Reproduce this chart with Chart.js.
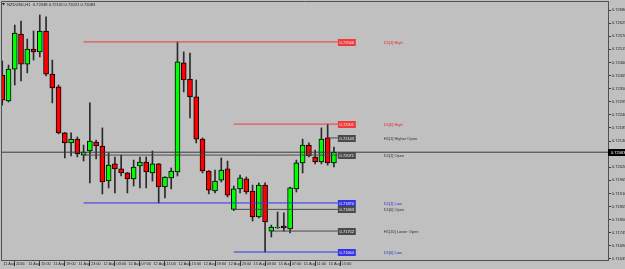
<!DOCTYPE html>
<html>
<head>
<meta charset="utf-8">
<script src="https://cdn.jsdelivr.net/npm/chart.js@4"></script>
<style>
html, body { margin: 0; padding: 0; background: #c0c0c0; }
#wrap { width: 625px; height: 269px; }
</style>
</head>
<body>
<div id="wrap"><canvas id="chart" width="625" height="269"></canvas></div>
<script>
// Data (NZDUSD H1, one bar per hour from 11 Aug 11:00)
const titleText = 'NZDUSD,H1  0.72038 0.72105 0.72021 0.72083';

const opens = [
	0.72407, 0.72298, 0.72432, 0.72579, 0.72453, 0.72516, 0.72504, 0.72592, 0.72411, 0.72357,
	0.72164, 0.72122, 0.72138, 0.72071, 0.72088, 0.72126, 0.72109, 0.71962, 0.72034, 0.72013,
	0.71996, 0.71971, 0.72025, 0.72042, 0.71996, 0.72034, 0.71937, 0.71975, 0.72000, 0.72458,
	0.72390, 0.72315, 0.72138, 0.72004, 0.71920, 0.71966, 0.72013, 0.71843, 0.71929, 0.71971,
	0.71920, 0.71811, 0.71945, 0.71752, 0.71765, 0.71773, 0.71761, 0.71929, 0.72038, 0.72113,
	0.72063, 0.72042, 0.72143, 0.72038
];
const highs = [
	0.72466, 0.72449, 0.72617, 0.72634, 0.72558, 0.72592, 0.72659, 0.72651, 0.72470, 0.72365,
	0.72166, 0.72164, 0.72147, 0.72113, 0.72290, 0.72134, 0.72185, 0.72080, 0.72063, 0.72071,
	0.71998, 0.72050, 0.72063, 0.72063, 0.72088, 0.72036, 0.71981, 0.72017, 0.72546, 0.72504,
	0.72499, 0.72386, 0.72143, 0.72006, 0.72008, 0.72059, 0.72046, 0.71941, 0.71987, 0.71979,
	0.71945, 0.71954, 0.71954, 0.71777, 0.71832, 0.71828, 0.71937, 0.72050, 0.72138, 0.72122,
	0.72092, 0.72185, 0.72201, 0.72105
];
const lows = [
	0.72281, 0.72294, 0.72365, 0.72382, 0.72416, 0.72470, 0.72483, 0.72403, 0.72290, 0.72160,
	0.72059, 0.72067, 0.72063, 0.72046, 0.71954, 0.72055, 0.71908, 0.71933, 0.71912, 0.71983,
	0.71912, 0.71941, 0.71933, 0.71933, 0.71962, 0.71870, 0.71891, 0.71929, 0.71983, 0.72336,
	0.72227, 0.72122, 0.71996, 0.71908, 0.71912, 0.71958, 0.71895, 0.71838, 0.71912, 0.71908,
	0.71794, 0.71807, 0.71664, 0.71727, 0.71763, 0.71752, 0.71744, 0.71916, 0.71996, 0.72063,
	0.72034, 0.72034, 0.72029, 0.72021
];
const closes = [
	0.72302, 0.72432, 0.72583, 0.72453, 0.72516, 0.72504, 0.72592, 0.72411, 0.72353, 0.72164,
	0.72122, 0.72138, 0.72076, 0.72084, 0.72130, 0.72109, 0.71958, 0.72029, 0.72013, 0.71996,
	0.71971, 0.72021, 0.72042, 0.72000, 0.72034, 0.71937, 0.71979, 0.72004, 0.72462, 0.72386,
	0.72315, 0.72138, 0.72004, 0.71924, 0.71962, 0.72008, 0.71903, 0.71929, 0.71975, 0.71916,
	0.71811, 0.71945, 0.71790, 0.71769, 0.71769, 0.71765, 0.71933, 0.72038, 0.72113, 0.72067,
	0.72042, 0.72138, 0.72038, 0.72083
];

const timeTickBars = [0, 4, 8, 12, 16, 20, 24, 28, 32, 36, 40, 44, 48, 52];
const timeLabels = [
	'11 Aug 2016', '11 Aug 15:00', '11 Aug 19:00', '11 Aug 23:00', '12 Aug 03:00',
	'12 Aug 07:00', '12 Aug 11:00', '12 Aug 15:00', '12 Aug 19:00', '12 Aug 23:00',
	'15 Aug 03:00', '15 Aug 07:00', '15 Aug 11:00', '15 Aug 15:00'
];

const priceTicks = [
	0.72680, 0.72625, 0.72570, 0.72515, 0.72460, 0.72405, 0.72350, 0.72295, 0.72240, 0.72185,
	0.72130, 0.72075, 0.72020, 0.71965, 0.71910, 0.71855, 0.71800, 0.71745, 0.71690, 0.71635
];
const bidPrice = 0.72083;

// Levels drawn by the indicator
const levelNames = ['D1[1] High', 'D1[0] High', 'H1[1] Higher Open', 'D1[1] Open', 'D1[1] Low', 'D1[0] Open', 'H1[10] Lower Open', 'D1[0] Low'];
const levelPrices = [0.72546, 0.72201, 0.72143, 0.72071, 0.71870, 0.71843, 0.71752, 0.71664];
const levelStartBars = [13, 37, 52, 13, 13, 37, 43, 37];

// view / style
const X_MIN = -0.2, X_MAX = 96.8;
const Y_MIN = 0.716305, Y_MAX = 0.727178;
const BOX_FROM = 53.63, BOX_TO = 56.5, NAME_AT = 60.97;
const FONT = 'Liberation Sans, Arial, sans-serif';
const UP = '#00ff00', DOWN = '#ff0000';

function levelKind(name) {
	if (/ High$/.test(name)) return 'high';
	if (/ Low$/.test(name)) return 'low';
	return 'open';
}
function levelColor(name) {
	const k = levelKind(name);
	if (k === 'high') return '#f03a3a';
	if (k === 'low') return '#3434e6';
	return '#4a4a4a';
}
function levelTextColor(name) {
	const k = levelKind(name);
	if (k === 'high') return '#e42a2a';
	if (k === 'low') return '#2d2dd2';
	return '#333333';
}

const bodyData = opens.map((o, i) => ({ x: i, y: [o, closes[i]] }));
const wickData = lows.map((l, i) => ({ x: i, y: [l, highs[i]] }));

const levelSets = levelNames.map((name, i) => ({
	type: 'line',
	data: [{ x: levelStartBars[i], y: levelPrices[i] }, { x: BOX_FROM, y: levelPrices[i] }],
	borderColor: levelColor(name),
	borderWidth: 1,
	pointRadius: 0,
	tension: 0,
	order: 0
}));

const annotations = {
	id: 'annotations',
	afterDatasetsDraw(chart) {
		const { ctx, scales: { x, y } } = chart;
		ctx.save();
		ctx.font = '4px ' + FONT;
		ctx.textBaseline = 'middle';
		levelNames.forEach((name, i) => {
			const py = Math.round(y.getPixelForValue(levelPrices[i])) + 0.5;
			const bx0 = x.getPixelForValue(BOX_FROM);
			const bx1 = x.getPixelForValue(BOX_TO);
			ctx.fillStyle = levelColor(name);
			ctx.fillRect(bx0, py - 3.5, bx1 - bx0, 7);
			ctx.fillStyle = '#f4f4f4';
			ctx.textAlign = 'center';
			ctx.fillText(levelPrices[i].toFixed(5), (bx0 + bx1) / 2, py);
			ctx.fillStyle = levelTextColor(name);
			ctx.textAlign = 'left';
			ctx.fillText(name, x.getPixelForValue(NAME_AT), py);
		});
		ctx.restore();
	},
	afterDraw(chart) {
		const { ctx, chartArea, scales: { y } } = chart;
		ctx.save();
		// frame
		ctx.strokeStyle = '#505050';
		ctx.lineWidth = 1;
		ctx.beginPath();
		ctx.moveTo(chartArea.left + 0.5, chartArea.bottom);
		ctx.lineTo(chartArea.left + 0.5, chartArea.top + 0.5);
		ctx.lineTo(chartArea.right, chartArea.top + 0.5);
		ctx.stroke();
		// bid label on the price axis
		const by = Math.round(y.getPixelForValue(bidPrice)) + 0.5;
		ctx.fillStyle = '#000';
		ctx.fillRect(chartArea.right, by - 3.5, 17, 7);
		ctx.fillStyle = '#fff';
		ctx.font = '4px ' + FONT;
		ctx.textBaseline = 'middle';
		ctx.textAlign = 'left';
		ctx.fillText(bidPrice.toFixed(5), chartArea.right + 3, by);
		// title
		ctx.fillStyle = '#202020';
		ctx.beginPath();
		ctx.moveTo(2, 3); ctx.lineTo(5, 3); ctx.lineTo(3.5, 5.5); ctx.closePath();
		ctx.fill();
		ctx.font = '4.1px ' + FONT;
		ctx.fillText(titleText, 7, 4.5);
		ctx.restore();
	}
};

const chart = new Chart(document.getElementById('chart'), {
	type: 'bar',
	data: {
		datasets: [
			...levelSets,
			{
				type: 'line',
				data: [{ x: X_MIN, y: bidPrice }, { x: X_MAX, y: bidPrice }],
				borderColor: '#3a3a3a',
				borderWidth: 1,
				pointRadius: 0,
				order: 0
			},
			{
				data: bodyData,
				backgroundColor: bodyData.map(d => d.y[1] >= d.y[0] ? UP : DOWN),
				borderColor: '#000',
				borderWidth: 1,
				borderSkipped: false,
				barThickness: 5,
				grouped: false,
				order: 1
			},
			{
				data: wickData,
				backgroundColor: '#2a2a2a',
				borderWidth: 0,
				barThickness: 1,
				grouped: false,
				order: 2
			}
		]
	},
	options: {
		responsive: false,
		animation: false,
		events: [],
		layout: { padding: { left: 1, top: 1, right: 0, bottom: 0 } },
		plugins: { legend: { display: false }, tooltip: { enabled: false } },
		scales: {
			x: {
				type: 'linear',
				offset: false,
				min: X_MIN,
				max: X_MAX,
				afterBuildTicks: (s) => { s.ticks = timeTickBars.map(v => ({ value: v })); },
				afterFit: (s) => { s.height = 9; s.paddingLeft = 0; s.paddingRight = 0; },
				grid: { drawOnChartArea: false, drawTicks: true, tickLength: 6, color: '#3c3c3c' },
				border: { display: true, color: '#505050' },
				ticks: {
					autoSkip: false,
					maxRotation: 0,
					minRotation: 0,
					align: 'start',
					padding: -4,
					color: '#1e1e1e',
					font: { family: FONT, size: 3.8 },
					callback: (v) => ' ' + timeLabels[timeTickBars.indexOf(v)]
				}
			},
			y: {
				position: 'right',
				min: Y_MIN,
				max: Y_MAX,
				beginAtZero: false,
				afterBuildTicks: (s) => { s.ticks = priceTicks.map(v => ({ value: v })); },
				afterFit: (s) => { s.width = 17; s.paddingTop = 0; s.paddingBottom = 0; },
				grid: { drawOnChartArea: false, drawTicks: true, tickLength: 3, color: '#3c3c3c' },
				border: { display: true, color: '#505050' },
				ticks: {
					padding: 1,
					color: '#1e1e1e',
					font: { family: FONT, size: 4 },
					callback: (v) => v.toFixed(5)
				}
			}
		}
	},
	plugins: [annotations]
});
</script>
</body>
</html>
